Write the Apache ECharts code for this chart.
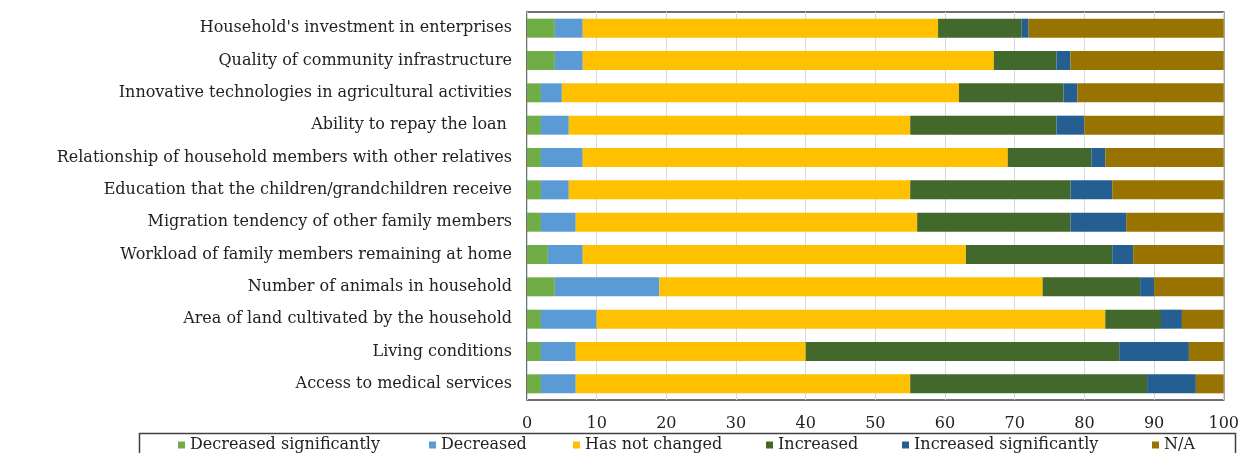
<!DOCTYPE html>
<html>
<head>
<meta charset="utf-8">
<script src="https://cdn.jsdelivr.net/npm/echarts@6/dist/echarts.min.js"></script>
<style>
  html, body { margin: 0; padding: 0; background: #fff; }
  #chart { width: 1242px; height: 453px; }
</style>
</head>
<body>
<div id="chart"></div>
<script>
// categories, top to bottom
const categories = [
  "Household's investment in enterprises",
  'Quality of community infrastructure',
  'Innovative technologies in agricultural activities',
  'Ability to repay the loan ',
  'Relationship of household members with other relatives',
  'Education that the children/grandchildren receive',
  'Migration tendency of other family members',
  'Workload of family members remaining at home',
  'Number of animals in household',
  'Area of land cultivated by the household',
  'Living conditions',
  'Access to medical services',
]

// percentages per category, same order as above
const decreasedSignificantly = [4, 4, 2, 2, 2, 2, 2, 3, 4, 2, 2, 2]
const decreased = [4, 4, 3, 4, 6, 4, 5, 5, 15, 8, 5, 5]
const hasNotChanged = [51, 59, 57, 49, 61, 49, 49, 55, 55, 73, 33, 48]
const increased = [12, 9, 15, 21, 12, 23, 22, 21, 14, 8, 45, 34]
const increasedSignificantly = [1, 2, 2, 4, 2, 6, 8, 3, 2, 3, 10, 7]
const notApplicable = [28, 22, 21, 20, 17, 16, 14, 13, 10, 6, 5, 4]

const xTicks = [0, 10, 20, 30, 40, 50, 60, 70, 80, 90, 100]

const seriesDefs = [
  { name: 'Decreased significantly', data: decreasedSignificantly, color: '#70AD47' },
  { name: 'Decreased', data: decreased, color: '#5B9BD5' },
  { name: 'Has not changed', data: hasNotChanged, color: '#FFC000' },
  { name: 'Increased', data: increased, color: '#43682B' },
  { name: 'Increased significantly', data: increasedSignificantly, color: '#255E91' },
  { name: 'N/A', data: notApplicable, color: '#997300' },
]

// where each legend entry sits (layout only)
const legendLefts = [178, 429, 573, 766, 902, 1152]

const font = '"DejaVu Serif", "Liberation Serif", serif'
const textColor = '#222'

const chart = echarts.init(document.getElementById('chart'))
chart.setOption({
  animation: false,
  textStyle: { fontFamily: font },
  grid: {
    left: 527,
    right: 18,
    top: 12,
    bottom: 53,
    show: true,
    borderColor: '#404040',
    borderWidth: 1.5,
  },
  graphic: [{
    type: 'rect',
    left: 137,
    top: 431,
    shape: { width: 1096, height: 40 },
    style: { fill: 'none', stroke: '#404040', lineWidth: 1.5 },
  }],
  legend: seriesDefs.map((s, i) => ({
    left: legendLefts[i],
    top: 437,
    padding: 0,
    itemWidth: 7,
    itemHeight: 7,
    itemGap: 4,
    icon: 'rect',
    textStyle: { fontFamily: font, fontSize: 16, color: textColor },
    data: [s.name],
  })),
  xAxis: {
    type: 'value',
    min: xTicks[0],
    max: xTicks[xTicks.length - 1],
    interval: 10,
    axisLine: { show: false },
    axisTick: { show: false },
    axisLabel: { fontFamily: font, fontSize: 16, color: textColor, margin: 16 },
    splitLine: { show: true, lineStyle: { color: '#d9d9d9', width: 1 } },
  },
  yAxis: {
    type: 'category',
    inverse: true,
    data: categories,
    axisLine: { show: false },
    axisTick: { show: false },
    axisLabel: { fontFamily: font, fontSize: 16, color: textColor, margin: 15 },
  },
  series: seriesDefs.map(s => ({
    name: s.name,
    type: 'bar',
    stack: 'total',
    barWidth: 19,
    itemStyle: { color: s.color },
    data: s.data,
  })),
})
</script>
</body>
</html>
